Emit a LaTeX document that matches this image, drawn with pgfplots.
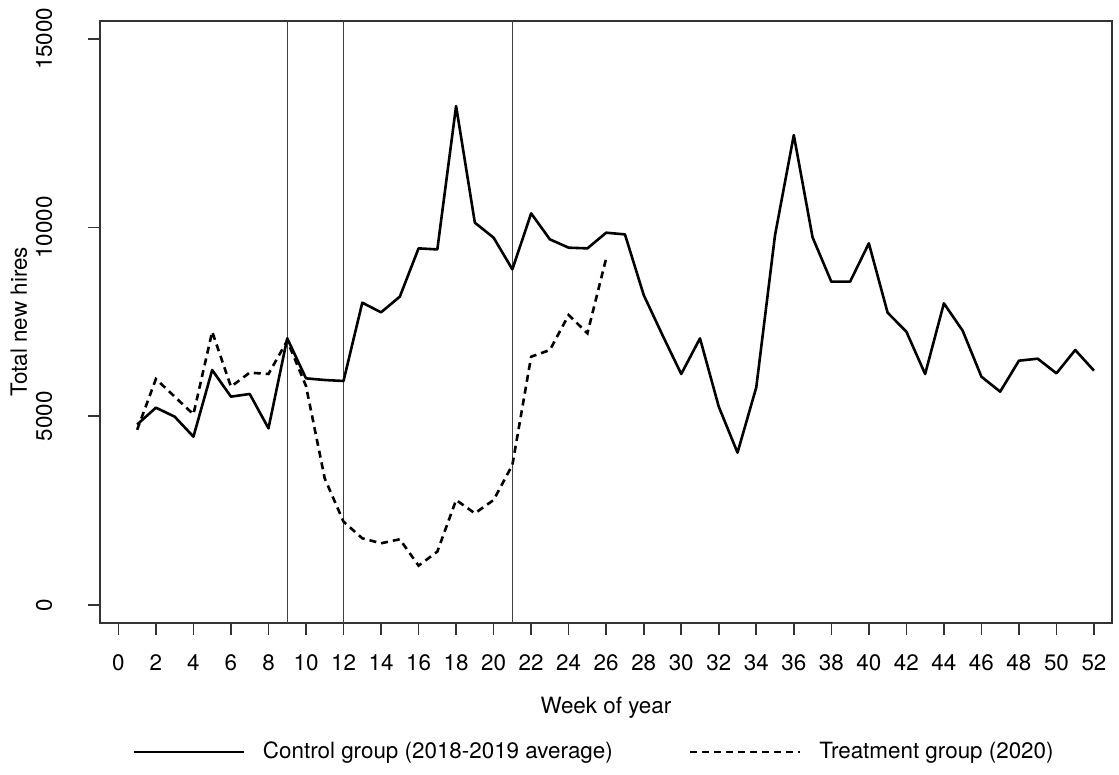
\documentclass[border=0pt]{standalone}
\usepackage{fontspec}
\setmainfont{TeX Gyre Heros}
\usepackage{pgfplots}
\pgfplotsset{compat=1.18}
\newcommand{\fs}{\fontsize{11.2bp}{13.4bp}\selectfont}
\begin{document}
\begin{tikzpicture}
  \begin{axis}[
      at={(0,0)}, anchor=south west,
      scale only axis,
      width=505.9bp, height=301bp,
      xmin=-0.98, xmax=52.95,
      ymin=-470, ymax=15480,
      xtick={0,2,...,52},
      ytick={0,5000,10000,15000},
      scaled y ticks=false,
      /pgf/number format/1000 sep={},
      /pgf/number format/assume math mode=true,
      tick align=outside,
      major tick length=6bp,
      xtick pos=bottom, ytick pos=left,
      tick style={line width=0.8bp, black!80},
      axis line style={line width=1bp, black!80},
      tick label style={font=\fs, inner sep=0pt},
      xticklabel style={anchor=north, yshift=-10bp},
      yticklabel style={rotate=90, anchor=south},
      yticklabel shift=17.75bp,
      xlabel={Week of year},
      ylabel={Total new hires},
      label style={font=\fs},
      xlabel style={at={(axis description cs:0.5,-0.142)}, anchor=center},
      ylabel style={at={(axis description cs:-0.0801,0.5)}, anchor=center, rotate=0},
      legend columns=2,
      legend style={draw=none, fill=none, font=\fs,
        at={(axis description cs:0.0316,-0.2148)}, anchor=west,
        inner sep=0pt, nodes={inner sep=0pt},
        /tikz/every odd column/.append style={column sep=9bp},
        /tikz/every even column/.append style={column sep=38bp}},
      legend image code/.code={\draw[#1] (0bp,0bp) -- (55bp,0bp);},
    ]
    % vertical reference lines at weeks 9, 12 and 21
    \addplot[forget plot, black!75, line width=0.7bp] coordinates {(9,-470) (9,15480)};
    \addplot[forget plot, black!75, line width=0.7bp] coordinates {(12,-470) (12,15480)};
    \addplot[forget plot, black!75, line width=0.7bp] coordinates {(21,-470) (21,15480)};

    \addplot[black, line width=1.3bp, line join=round] table {
      x y
      1  4780
      2  5227
      3  4989
      4  4459
      5  6225
      6  5519
      7  5590
      8  4680
      9  7064
      10 6004
      11 5960
      12 5934
      13 8009
      14 7753
      15 8168
      16 9448
      17 9420
      18 13219
      19 10128
      20 9731
      21 8892
      22 10375
      23 9686
      24 9466
      25 9448
      26 9863
      27 9818
      28 8212
      29 7150
      30 6119
      31 7064
      32 5254
      33 4035
      34 5766
      35 9800
      36 12450
      37 9740
      38 8565
      39 8565
      40 9581
      41 7744
      42 7241
      43 6119
      44 7991
      45 7267
      46 6048
      47 5651
      48 6472
      49 6525
      50 6137
      51 6755
      52 6207
    };
    \addlegendentry{Control group (2018-2019 average)}

    \addplot[black, line width=1.3bp, dash pattern=on 3.5bp off 2.5bp] table {
      x y
      1  4640
      2  5987
      3  5519
      4  5051
      5  7240
      6  5784
      7  6155
      8  6120
      9  7002
      10 5800
      11 3350
      12 2207
      13 1766
      14 1634
      15 1740
      16 1042
      17 1413
      18 2781
      19 2428
      20 2781
      21 3709
      22 6578
      23 6755
      24 7682
      25 7197
      26 9183
    };
    \addlegendentry{Treatment group (2020)}
  \end{axis}
  \pgfresetboundingbox
  \path[use as bounding box] (-50bp,-76.15bp) rectangle (509.5bp,311.35bp);
\end{tikzpicture}
\end{document}
